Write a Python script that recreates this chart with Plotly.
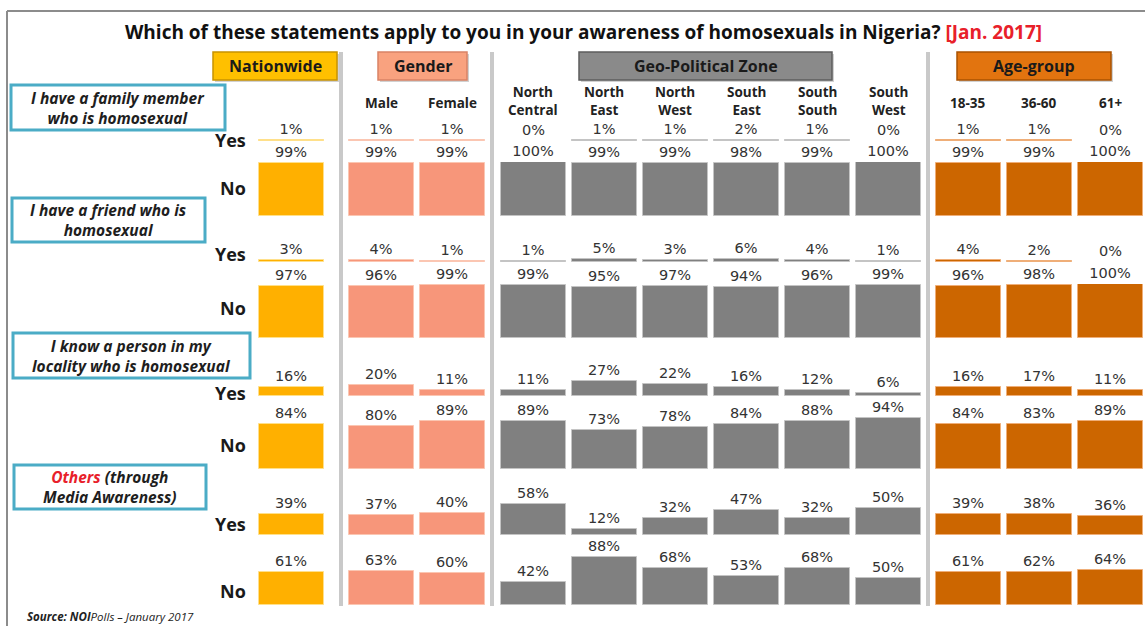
import plotly.graph_objects as go

# ---- data -------------------------------------------------------------
columns = ["Nationwide", "Male", "Female", "North Central", "North East",
           "North West", "South East", "South South", "South West",
           "18-35", "36-60", "61+"]
column_labels = ["", "Male", "Female", "North<br>Central", "North<br>East",
                 "North<br>West", "South<br>East", "South<br>South",
                 "South<br>West", "18-35", "36-60", "61+"]
groups = ["Nationwide", "Gender", "Geo-Political Zone", "Age-group"]
group_sizes = [1, 2, 6, 3]

statements = ["I have a family member<br>who is homosexual",
              "I have a friend who is<br>homosexual",
              "I know a person in my<br>locality who is homosexual",
              "<span style='color:#E8202A'>Others</span> (through<br>Media Awareness)"]

family_yes = [1, 1, 1, 0, 1, 1, 2, 1, 0, 1, 1, 0]
family_no = [99, 99, 99, 100, 99, 99, 98, 99, 100, 99, 99, 100]
friend_yes = [3, 4, 1, 1, 5, 3, 6, 4, 1, 4, 2, 0]
friend_no = [97, 96, 99, 99, 95, 97, 94, 96, 99, 96, 98, 100]
locality_yes = [16, 20, 11, 11, 27, 22, 16, 12, 6, 16, 17, 11]
locality_no = [84, 80, 89, 89, 73, 78, 84, 88, 94, 84, 83, 89]
media_yes = [39, 37, 40, 58, 12, 32, 47, 32, 50, 39, 38, 36]
media_no = [61, 63, 60, 42, 88, 68, 53, 68, 50, 61, 62, 64]

rows = [("Yes", family_yes), ("No", family_no),
        ("Yes", friend_yes), ("No", friend_no),
        ("Yes", locality_yes), ("No", locality_no),
        ("Yes", media_yes), ("No", media_no)]

# ---- layout constants (pixels) -----------------------------------------
W, H = 1145, 626
group_start = [291.5, 381, 533, 968]   # centre of first bar in each group
step = 71
bar_w = 65
baselines = [141, 216, 262, 338, 396, 469, 535, 605]
full_h = 54                            # height of a 100% bar
row_label_y = [140, 188, 254, 308, 393, 445, 524, 591]

fills = ["#FFB000", "#F7967A", "#808080", "#CC6600"]
edges = ["#FFE08A", "#FBC6B2", "#C4C4C4", "#EFAE78"]
box_fill = ["#FFC000", "#F9A27F", "#8A8A8A", "#E2740F"]
box_edge = ["#C89200", "#D98266", "#5E5E5E", "#A95200"]
box_x = [(213, 337), (378, 467), (579, 832), (957, 1111)]
sep_x = [341, 492, 928]
stmt_boxes = [(11, 85, 225, 130), (12, 198, 205, 242),
              (13, 333, 250, 378), (14, 465, 206, 509)]

# bar positions and colours per column
xs, col_fill, col_edge = [], [], []
for g, n in enumerate(group_sizes):
    for i in range(n):
        xs.append(group_start[g] + i * step)
        col_fill.append(fills[g])
        col_edge.append(edges[g])


def px(x):
    return x / W


def py(y):
    return 1 - y / H


def label(x, y, text, size, color="#1A1A1A", xanchor="center"):
    return dict(x=px(x), y=py(y), xref="paper", yref="paper",
                xanchor=xanchor, yanchor="middle", showarrow=False,
                text=text, font=dict(family="Open Sans", size=size,
                                     color=color))


fig = go.Figure()
layout_axes = {}
for r, (ans, vals) in enumerate(rows):
    ax = "y" if r == 0 else f"y{r + 1}"
    fig.add_trace(go.Bar(
        x=xs, y=vals, yaxis=ax, width=bar_w,
        marker=dict(color=col_fill,
                    line=dict(color=col_edge,
                              width=[0 if v == 0 else 1 for v in vals])),
        text=[f"{v}%" for v in vals], textposition="outside",
        textfont=dict(family="DejaVu Sans", size=14.5, color="#333333"),
        constraintext="none", cliponaxis=False, showlegend=False,
        hoverinfo="skip"))
    name = "yaxis" if r == 0 else f"yaxis{r + 1}"
    b = baselines[r]
    layout_axes[name] = dict(domain=[py(b), py(b - full_h)], range=[0, 100],
                             visible=False, fixedrange=True)

fig.update_layout(
    width=W, height=H, margin=dict(l=0, r=0, t=0, b=0),
    paper_bgcolor="white", plot_bgcolor="rgba(0,0,0,0)",
    xaxis=dict(range=[0, W], domain=[0, 1], visible=False, fixedrange=True),
    bargap=0, **layout_axes)

shapes = []
# outer frame (top and left edges)
shapes.append(dict(type="line", xref="paper", yref="paper",
                   x0=px(7), x1=1, y0=py(11), y1=py(11),
                   line=dict(color="#8C8C8C", width=2)))
shapes.append(dict(type="line", xref="paper", yref="paper",
                   x0=px(7), x1=px(7), y0=py(11), y1=0,
                   line=dict(color="#8C8C8C", width=2)))
# group separators
for sx in sep_x:
    shapes.append(dict(type="line", xref="paper", yref="paper",
                       x0=px(sx), x1=px(sx), y0=py(52), y1=py(606),
                       line=dict(color="#C9C9C9", width=4)))
# group header boxes (with soft shadow)
for g, (x0, x1) in enumerate(box_x):
    shapes.append(dict(type="rect", xref="paper", yref="paper",
                       x0=px(x0 + 2), x1=px(x1 + 2), y0=py(82), y1=py(54),
                       fillcolor="rgba(0,0,0,0.18)", line=dict(width=0),
                       layer="below"))
    shapes.append(dict(type="rect", xref="paper", yref="paper",
                       x0=px(x0), x1=px(x1), y0=py(80), y1=py(52),
                       fillcolor=box_fill[g],
                       line=dict(color=box_edge[g], width=1.5)))
# statement boxes
for (x0, y0, x1, y1) in stmt_boxes:
    shapes.append(dict(type="rect", xref="paper", yref="paper",
                       x0=px(x0), x1=px(x1), y0=py(y1), y1=py(y0),
                       fillcolor="white",
                       line=dict(color="#4BACC6", width=3)))
fig.update_layout(shapes=shapes)

ann = []
ann.append(label(
    583, 32,
    "<b>Which of these statements apply to you in your awareness of "
    "homosexuals in Nigeria? <span style='color:#E8202A'>[Jan. 2017]"
    "</span></b>", 19, "#111111"))
for g, (x0, x1) in enumerate(box_x):
    ann.append(label((x0 + x1) / 2, 66, f"<b>{groups[g]}</b>", 16))
for i, lab in enumerate(column_labels):
    if not lab:
        continue
    yy = 101 if "<br>" in lab else 103
    ann.append(label(xs[i], yy, f"<b>{lab}</b>", 13.5, "#222222"))
for k, (x0, y0, x1, y1) in enumerate(stmt_boxes):
    ann.append(label((x0 + x1) / 2, (y0 + y1) / 2,
                     f"<b><i>{statements[k]}</i></b>", 15.5, "#1E1E1E"))
for r, (ans, _) in enumerate(rows):
    ann.append(label(248, row_label_y[r], f"<b>{ans}</b>", 18,
                     xanchor="right"))
ann.append(label(25, 616,
                 "<b><i>Source: NOI</i></b><i>Polls \u2013 January 2017</i>",
                 11.5, "#222222", xanchor="left"))
fig.update_layout(annotations=ann)

fig.write_html("out.html")
